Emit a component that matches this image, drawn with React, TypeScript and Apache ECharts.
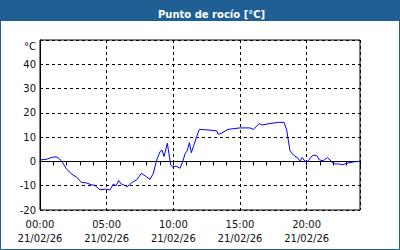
import React, { useEffect, useRef } from "react";
import * as echarts from "echarts";

const TITLE = "Punto de rocío [°C]";
const DATE_LABEL = "21/02/26";
const Y_UNIT = "°C";

// Hours since 00:00 on 21/02/26
const hours = [
  0.0, 0.5, 0.9, 1.2, 1.4, 1.6, 2.0, 2.4, 2.75, 3.1, 3.5, 3.9, 4.1, 4.5, 4.9,
  5.25, 5.5, 5.7, 5.9, 6.1, 6.55, 6.9, 7.25, 7.6, 7.9, 8.25, 8.5, 8.75, 9.0,
  9.15, 9.3, 9.55, 9.8, 9.95, 10.2, 10.5, 10.7, 10.9, 11.05, 11.2, 11.35, 11.5,
  11.75, 11.95, 12.75, 13.25, 13.35, 13.5, 14.1, 15.0, 15.75, 16.0, 16.45,
  16.65, 17.25, 17.9, 18.3, 18.5, 18.62, 18.75, 19.0, 19.35, 19.5, 19.67,
  19.85, 20.05, 20.45, 20.75, 20.95, 21.25, 21.55, 21.75, 22.0, 22.4, 22.7,
  23.0, 23.5, 24.0,
];

// Dew point in °C
const dewPoint = [
  0.6, 0.9, 1.7, 1.9, 1.3, 0.3, -3.2, -5.3, -6.5, -8.6, -8.9, -9.7, -9.8,
  -11.7, -11.4, -11.7, -9.3, -10.0, -7.9, -9.3, -10.4, -8.7, -7.6, -4.9, -6.0,
  -7.4, -4.9, 0.6, 4.0, 4.7, 2.0, 7.5, -1.4, -2.4, -1.9, -2.8, -0.1, 3.4, 4.4,
  7.7, 3.6, 6.1, 10.2, 13.2, 12.9, 12.6, 11.3, 11.3, 13.2, 13.8, 13.8, 13.2,
  15.6, 15.0, 15.6, 16.1, 16.1, 13.0, 8.8, 4.4, 2.7, 1.3, 0.2, 1.6, 0.2, -0.1,
  2.5, 2.5, 0.6, 0.3, 1.6, 0.6, -1.0, -1.0, -1.4, -0.8, -0.2, 0.1,
];

const yTicks = [-20, -10, 0, 10, 20, 30, 40, 50];
const xLabelHours = [0, 5, 10, 15, 20];

const BLUE = "#1f5f96";
const FONT = "DejaVu Sans";

function pad(n: number) {
  return n < 10 ? "0" + n : String(n);
}

export default function App() {
  const ref = useRef<HTMLDivElement>(null);

  useEffect(() => {
    if (!ref.current) return;
    const chart = echarts.init(ref.current, undefined, { renderer: "svg" });
    const data = hours.map((h, i) => [h, dewPoint[i]]);
    chart.setOption({
      animation: false,
      backgroundColor: "#ffffff",
      title: {
        text: TITLE,
        left: 153,
        top: 4,
        textStyle: {
          color: "#ffffff",
          fontWeight: "bold",
          fontSize: 10,
          fontFamily: FONT,
        },
      },
      graphic: [
        {
          type: "rect",
          z: -1,
          silent: true,
          shape: { x: 0, y: 0, width: 400, height: 21 },
          style: { fill: BLUE },
        },
        {
          type: "rect",
          z: -1,
          silent: true,
          shape: { x: 0.5, y: 0.5, width: 399, height: 249 },
          style: { fill: "none", stroke: BLUE, lineWidth: 1 },
        },
        {
          type: "text",
          x: 36,
          y: 46,
          style: {
            text: Y_UNIT,
            fill: "#111",
            font: `10px "${FONT}"`,
            align: "right",
            verticalAlign: "middle",
          },
        },
      ],
      grid: {
        left: 40,
        top: 40,
        width: 320,
        height: 170,
        show: true,
        borderColor: "#000",
        borderWidth: 1,
        backgroundColor: "transparent",
      },
      xAxis: [
        {
          type: "value",
          min: 0,
          max: 24,
          interval: 1,
          axisLine: { show: true, lineStyle: { color: "#000", width: 1 } },
          axisTick: {
            show: true,
            length: 4,
            inside: false,
            lineStyle: { color: "#000" },
          },
          splitLine: { show: false },
          axisLabel: {
            margin: 7,
            color: "#111",
            fontSize: 10,
            fontFamily: FONT,
            lineHeight: 14,
            formatter: (v: number) =>
              xLabelHours.indexOf(v) >= 0 ? `${pad(v)}:00\n${DATE_LABEL}` : "",
          },
        },
        {
          type: "value",
          min: 0,
          max: 24,
          interval: 5,
          position: "bottom",
          axisLine: { show: false },
          axisTick: { show: false },
          axisLabel: { show: false },
          splitLine: {
            show: true,
            lineStyle: { color: "#000", type: [3, 3], width: 1 },
          },
        },
      ],
      yAxis: {
        type: "value",
        min: yTicks[0],
        max: yTicks[yTicks.length - 1],
        interval: 10,
        axisLine: { show: true, lineStyle: { color: "#000", width: 1 } },
        axisTick: { show: false },
        axisLabel: {
          margin: 4,
          color: "#111",
          fontSize: 10,
          fontFamily: FONT,
          formatter: (v: number) => (v === 50 ? "" : String(v)),
        },
        splitLine: {
          show: true,
          lineStyle: { color: "#000", type: [3, 3], width: 1 },
        },
      },
      series: [
        {
          type: "line",
          xAxisIndex: 0,
          data,
          showSymbol: false,
          symbol: "none",
          lineStyle: { color: "#0000ff", width: 1 },
        },
      ],
    });
    return () => chart.dispose();
  }, []);

  return (
    <div
      ref={ref}
      style={{ position: "fixed", left: 0, top: 0, width: 400, height: 250 }}
    />
  );
}
